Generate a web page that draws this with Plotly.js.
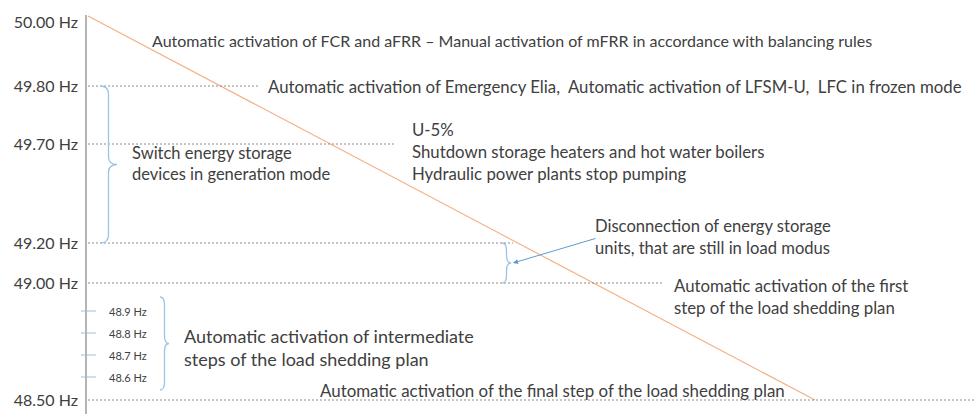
<!DOCTYPE html>
<html>
<head>
<meta charset="utf-8">
<script src="https://cdn.plot.ly/plotly-3.0.1.min.js"></script>
<style>html,body{margin:0;padding:0;background:#fff}#chart{width:976px;height:414px}</style>
</head>
<body>
<div id="chart"></div>
<script>
// ---- data ----
const levelLabels = ['50.00 Hz', '49.80 Hz', '49.70 Hz', '49.20 Hz', '49.00 Hz', '48.50 Hz'];
const levelHz = [50.00, 49.80, 49.70, 49.20, 49.00, 48.50];
const stepLabels = ['48.9 Hz', '48.8 Hz', '48.7 Hz', '48.6 Hz'];
const stepHz = [48.9, 48.8, 48.7, 48.6];
const declineHz = [50.00, 48.50];
const notes = [
  'Automatic activation of FCR and aFRR \u2013 Manual activation of mFRR in accordance with balancing rules',
  'Automatic activation of Emergency Elia,&nbsp; Automatic activation of LFSM-U,&nbsp; LFC in frozen mode',
  'Switch energy storage<br>devices in generation mode',
  'U-5%<br>Shutdown storage heaters and hot water boilers<br>Hydraulic power plants stop pumping',
  'Disconnection of energy storage<br>units, that are still in load modus',
  'Automatic activation of the first<br>step of the load shedding plan',
  'Automatic activation of intermediate<br>steps of the load shedding plan',
  'Automatic activation of the final step of the load shedding plan'
];

// ---- schematic layout (non-linear diagram scale) ----
const W = 976, H = 414, AX = 86;
const levelPos = [22, 86, 144, 243, 283, 400];
function pos(hz) {
  for (let i = 0; i < levelHz.length - 1; i++) {
    const a = levelHz[i], b = levelHz[i + 1];
    if (hz <= a && hz >= b) return levelPos[i] + (a - hz) / (a - b) * (levelPos[i + 1] - levelPos[i]);
  }
  return hz > levelHz[0] ? levelPos[0] : levelPos[levelPos.length - 1];
}
// sub-steps are drawn on their own evenly spaced ladder inside the 49.00–48.50 band
function stepPos(hz) { return 311 + (stepHz[0] - hz) / 0.1 * 22; }
const dotEnd = [null, 258, 395, 513, 663, 976];
const notePos = [[150, 40], [266, 86], [130, 163], [410, 151], [593, 237], [672, 296], [182, 347], [318, 390]];
const noteSize = [16, 16.8, 16.5, 16.8, 16.6, 16.8, 18, 16.9];
const declineX = [88, 815];

const textColor = '#404040';
const font = 'Lato, "Open Sans", sans-serif';
const traces = [];
traces.push({x: declineX, y: declineHz.map(pos).map((v, i) => i === 0 ? 16 : v), mode: 'lines',
  line: {color: '#f4b183', width: 1.2}, hoverinfo: 'skip', showlegend: false});

const shapes = [];
shapes.push({type: 'line', xref: 'x', yref: 'y', x0: AX, x1: AX, y0: 15, y1: H, line: {color: '#b4b4b4', width: 2}});
levelHz.forEach((hz, i) => {
  if (dotEnd[i] == null) return;
  shapes.push({type: 'line', xref: 'x', yref: 'y', x0: AX + 2, x1: dotEnd[i], y0: pos(hz), y1: pos(hz),
    line: {color: '#8c8c8c', width: 1, dash: '2px,2px'}});
});
stepHz.forEach(hz => {
  shapes.push({type: 'line', xref: 'x', yref: 'y', x0: 81, x1: 96, y0: stepPos(hz), y1: stepPos(hz), line: {color: '#a9bdd6', width: 1}});
});
function brace(x, y0, y1, w) {
  const ym = (y0 + y1) / 2, xm = x + w * 0.5, r = Math.min(8, (y1 - y0) / 4);
  return `M ${x},${y0} Q ${xm},${y0} ${xm},${y0 + r} L ${xm},${ym - r} Q ${xm},${ym} ${x + w},${ym} ` +
         `Q ${xm},${ym} ${xm},${ym + r} L ${xm},${y1 - r} Q ${xm},${y1} ${x},${y1}`;
}
const braceColor = '#9dc3e6';
shapes.push({type: 'path', xref: 'x', yref: 'y', path: brace(100, pos(49.80), pos(49.20), 17), line: {color: braceColor, width: 1.3}});
shapes.push({type: 'path', xref: 'x', yref: 'y', path: brace(502, pos(49.20), pos(49.00), 9), line: {color: braceColor, width: 1.3}});
shapes.push({type: 'path', xref: 'x', yref: 'y', path: brace(160, 297, 390, 9), line: {color: braceColor, width: 1.3}});

const annotations = [];
notes.forEach((t, i) => {
  annotations.push({x: notePos[i][0], y: notePos[i][1], xref: 'x', yref: 'y', text: t, showarrow: false,
    xanchor: 'left', yanchor: 'middle', align: 'left', font: {family: font, size: noteSize[i], color: textColor}});
});
stepHz.forEach((hz, i) => {
  annotations.push({x: 107, y: stepPos(hz), xref: 'x', yref: 'y', text: stepLabels[i], showarrow: false,
    xanchor: 'left', yanchor: 'middle', font: {family: font, size: 11, color: textColor}});
});
annotations.push({x: 513, y: 263, xref: 'x', yref: 'y', ax: 597, ay: 238, axref: 'x', ayref: 'y', text: '',
  showarrow: true, arrowhead: 2, arrowsize: 1, arrowwidth: 1, arrowcolor: '#5b9bd5'});

const layout = {
  width: W, height: H,
  margin: {l: 0, r: 0, t: 0, b: 0},
  paper_bgcolor: '#fff', plot_bgcolor: '#fff',
  xaxis: {range: [0, W], visible: false, fixedrange: true},
  yaxis: {range: [H, 0], anchor: 'free', position: AX / W, showline: false, showgrid: false, zeroline: false,
    tickvals: levelHz.map(pos), ticktext: levelLabels, ticks: '', ticklabelstandoff: 8,
    tickfont: {family: font, size: 16, color: textColor}, automargin: false, fixedrange: true},
  shapes, annotations, showlegend: false
};
Plotly.newPlot('chart', traces, layout, {displayModeBar: false, staticPlot: true});
</script>
</body>
</html>
